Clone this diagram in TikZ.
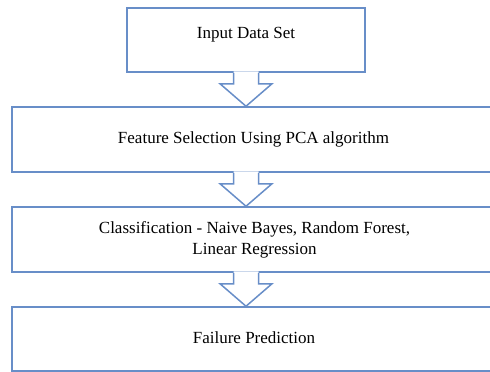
\documentclass[tikz,border=0pt]{standalone}
\usepackage{fontspec}
\setmainfont{Liberation Serif}
\usetikzlibrary{calc}
\definecolor{flowblue}{RGB}{104,142,200}
\begin{document}
\begin{tikzpicture}[x=1pt,y=-1pt,
  stagebox/.style={draw=flowblue,line width=1.5pt,rectangle,inner sep=0pt},
  label/.style={inner sep=0pt,anchor=base,align=center,
    font=\fontsize{17pt}{21pt}\selectfont},
  arrowline/.style={draw=flowblue,line width=1.5pt,line join=miter}]
\useasboundingbox (0,0) rectangle (490,372);

% stage boxes
\node[stagebox,minimum width=238pt,minimum height=64pt] (b1) at (246,40) {};
\node[stagebox,minimum width=488pt,minimum height=65pt] (b2) at (256,139.5) {};
\node[stagebox,minimum width=488pt,minimum height=65pt] (b3) at (256,239.5) {};
\node[stagebox,minimum width=488pt,minimum height=64pt] (b4) at (256,339) {};

% stage labels (a two-line label sits on the baseline of its last line)
\node[label] (t1) at (246,38) {Input Data Set};
\node[label] (t2) at (253.5,143) {Feature Selection Using PCA algorithm};
\node[label] (t3) at (254.5,254) {Classification - Naive Bayes, Random Forest,\\Linear Regression};
\node[label] (t4) at (254,343) {Failure Prediction};

% block arrows between stages
\coordinate (ax) at (b1.south);
\foreach \up/\down in {b1/b2,b2/b3,b3/b4}{
  \coordinate (s) at (ax |- \up.south);
  \coordinate (e) at (ax |- \down.north);
  \fill[white] ($(s)+(-12.5,-1.5)$) -- ($(s)+(-12.5,11)$) -- ($(s)+(-26,11)$)
    -- (e) -- ($(s)+(26,11)$) -- ($(s)+(12.5,11)$) -- ($(s)+(12.5,-1.5)$) -- cycle;
  \path[arrowline] ($(s)+(-12.5,0)$) -- ($(s)+(-12.5,11)$) -- ($(s)+(-26,11)$)
    -- (e) -- ($(s)+(26,11)$) -- ($(s)+(12.5,11)$) -- ($(s)+(12.5,0)$);
}
\end{tikzpicture}
\end{document}
